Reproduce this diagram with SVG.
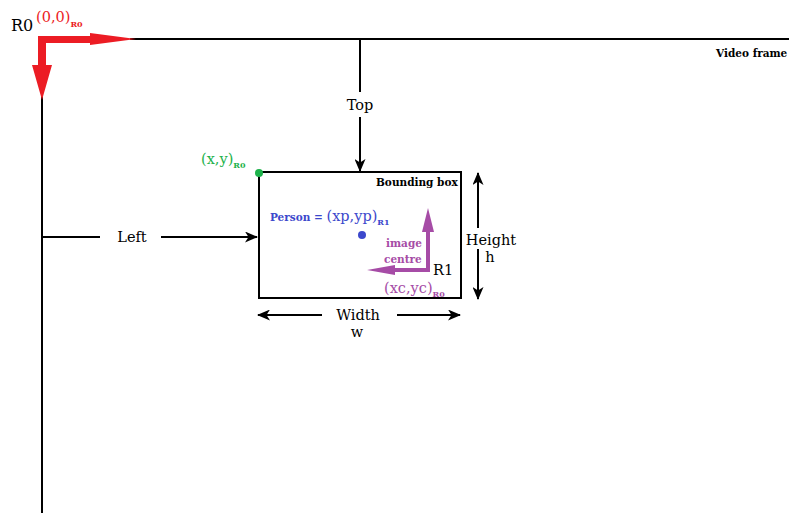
<svg xmlns="http://www.w3.org/2000/svg" width="789" height="513" viewBox="0 0 789 513">
<defs>
<style>
text{font-family:"DejaVu Serif","Liberation Serif",serif;}
.ln{stroke:#000;stroke-width:2;fill:none;}
.lbl{font-size:14.5px;fill:#000;}
.sm{font-size:10.5px;font-weight:bold;}
.sub{font-size:8px;font-weight:bold;}
.red{fill:#ec1c24;}
.grn{fill:#1db24b;}
.blu{fill:#3c48cc;}
.pur{fill:#a64ca6;}
</style>
<marker id="ah" viewBox="0 0 13 11" refX="12" refY="5.5" markerWidth="13" markerHeight="11" markerUnits="userSpaceOnUse" orient="auto">
<path d="M0,0 L13,5.5 L0,11 L3.5,5.5 z" fill="#000"/>
</marker>
</defs>
<rect width="789" height="513" fill="#fff"/>

<g id="frame">
<line class="ln" x1="130" y1="39" x2="789" y2="39"/>
<line class="ln" x1="42" y1="95" x2="42" y2="513"/>
<text x="716" y="57" class="sm">Video frame</text>
</g>

<g id="origin">
<path d="M38,36 L90,36 L90,33 L136,39 L90,45 L90,43 L46,43 L46,65 L52,65 L42,100 L32,65 L38,65 Z" class="red"/>
<text x="11" y="31" font-size="16">R0</text>
<text x="36" y="22" font-size="14.5" class="red">(0,0)<tspan dy="5" class="sub">R0</tspan></text>
</g>

<g id="connectors">
<line class="ln" x1="360" y1="39" x2="360" y2="92"/>
<line class="ln" x1="360" y1="117" x2="360" y2="171" marker-end="url(#ah)"/>
<line class="ln" x1="42" y1="237" x2="100" y2="237"/>
<line class="ln" x1="161" y1="237" x2="257" y2="237" marker-end="url(#ah)"/>
<line class="ln" x1="478" y1="228" x2="478" y2="173" marker-end="url(#ah)"/>
<line class="ln" x1="478" y1="249" x2="478" y2="299" marker-end="url(#ah)"/>
<line class="ln" x1="322" y1="315" x2="258" y2="315" marker-end="url(#ah)"/>
<line class="ln" x1="397" y1="315" x2="460" y2="315" marker-end="url(#ah)"/>
<text x="360" y="110" text-anchor="middle" class="lbl">Top</text>
<text x="132" y="242" text-anchor="middle" class="lbl">Left</text>
<text x="491" y="245" text-anchor="middle" class="lbl">Height</text>
<text x="490" y="262" text-anchor="middle" class="lbl">h</text>
<text x="358" y="320" text-anchor="middle" class="lbl">Width</text>
<text x="357" y="337" text-anchor="middle" class="lbl">w</text>
</g>

<g id="bbox">
<rect x="259" y="172" width="202" height="126" class="ln"/>
<text x="376" y="186" class="sm">Bounding box</text>
<circle cx="259" cy="173" r="4" class="grn"/>
<text x="201" y="164" font-size="14.5" class="grn">(x,y)<tspan dy="4" class="sub">R0</tspan></text>
</g>

<g id="person">
<text x="270" y="221" class="blu"><tspan class="sm">Person = </tspan><tspan font-size="14.5">(xp,yp)</tspan><tspan dy="4" class="sub">R1</tspan></text>
<circle cx="362" cy="235" r="4" class="blu"/>
</g>

<g id="centre">
<path d="M426,272 L426,232 L422,232 L428,208 L434,232 L430,232 L430,272 Z" class="pur"/>
<path d="M430,268 L395,268 L395,265 L367,270 L395,275 L395,272 L430,272 Z" class="pur"/>
<text x="386" y="247" class="sm pur" font-size="9.5">image</text>
<text x="384" y="263" class="sm pur" font-size="9.5">centre</text>
<text x="433" y="275" class="lbl">R1</text>
<text x="384" y="293" font-size="14.5" class="pur">(xc,yc)<tspan dy="4" class="sub">R0</tspan></text>
</g>
</svg>
